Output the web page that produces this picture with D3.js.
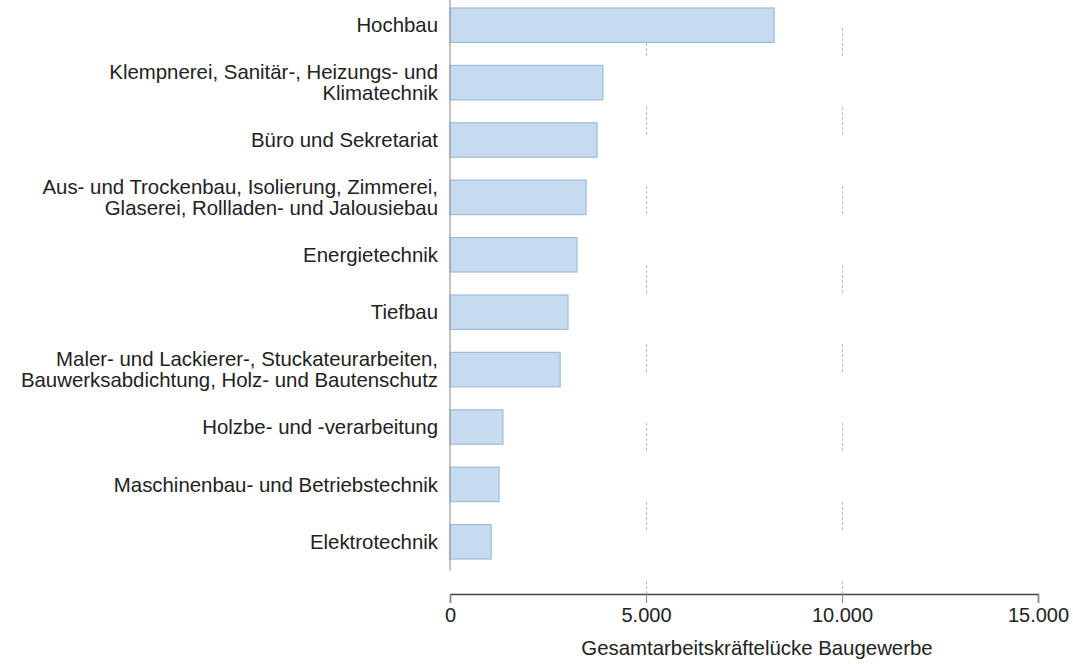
<!DOCTYPE html>
<html><head><meta charset="utf-8">
<script src="https://cdn.jsdelivr.net/npm/d3@7"></script>
<style>body{margin:0;background:#fff}svg{display:block}text{font-family:"Liberation Sans",Arial,sans-serif}</style>
</head><body><svg id="c" width="1073" height="664"></svg>
<script>
const categories = [
  ["Hochbau"],
  ["Klempnerei, Sanitär-, Heizungs- und", "Klimatechnik"],
  ["Büro und Sekretariat"],
  ["Aus- und Trockenbau, Isolierung, Zimmerei,", "Glaserei, Rollladen- und Jalousiebau"],
  ["Energietechnik"],
  ["Tiefbau"],
  ["Maler- und Lackierer-, Stuckateurarbeiten,", "Bauwerksabdichtung, Holz- und Bautenschutz"],
  ["Holzbe- und -verarbeitung"],
  ["Maschinenbau- und Betriebstechnik"],
  ["Elektrotechnik"]
];
const values = [8270, 3900, 3750, 3470, 3240, 3010, 2810, 1350, 1250, 1050];
const xTicks = [0, 5000, 10000, 15000];
const xTickLabels = ["0", "5.000", "10.000", "15.000"];
const xTitle = "Gesamtarbeitskräftelücke Baugewerbe";

const svg = d3.select("#c");
const x = d3.scaleLinear().domain([0, 15000]).range([450, 1038]);
const keys = categories.map((d, i) => i);
const y = d3.scaleBand().domain(keys).range([-3.5, 570.5]).paddingInner(0.4).paddingOuter(0.2);
const axisY = 594;
const fs = 20.4;

// gridlines
svg.append("g").selectAll("line").data(xTicks.slice(1, 3)).join("line")
  .attr("x1", d => Math.round(x(d)) + 0.5).attr("x2", d => Math.round(x(d)) + 0.5)
  .attr("y1", 0).attr("y2", axisY)
  .attr("stroke", "#bdbdbd").attr("stroke-width", 1)
  .attr("stroke-dasharray", "3,2,3,2,3,2,3,2,3,2,3,51").attr("stroke-dashoffset", 51);

// bars
svg.append("g").selectAll("rect").data(values).join("rect")
  .attr("x", x(0)).attr("y", (d, i) => y(i))
  .attr("width", d => x(d) - x(0)).attr("height", y.bandwidth())
  .attr("fill", "#c6dbef").attr("stroke", "#9dbdd9").attr("stroke-width", 1.2);

// y axis line
svg.append("line").attr("x1", 450).attr("x2", 450).attr("y1", -3.5).attr("y2", 570.5)
  .attr("stroke", "#9a9a9a").attr("stroke-width", 1.2);

// category labels
const lab = svg.append("g").selectAll("text").data(categories).join("text")
  .attr("text-anchor", "end").attr("font-size", fs).attr("fill", "#222")
  .attr("transform", (d, i) => `translate(438,${y(i) + y.bandwidth() / 2})`);
lab.each(function(lines) {
  const t = d3.select(this);
  const n = lines.length, lh = 21;
  lines.forEach((l, j) => {
    t.append("tspan").attr("x", 0).attr("y", (j - (n - 1) / 2) * lh).attr("dy", "0.35em").text(l);
  });
});

// x axis
const xa = d3.axisBottom(x).tickValues(xTicks).tickFormat((d, i) => xTickLabels[i]).tickSize(9).tickPadding(5);
const g = svg.append("g").attr("transform", `translate(0,${axisY})`).call(xa);
g.select(".domain").attr("stroke", "#444").attr("stroke-width", 1.5);
g.selectAll(".tick line").attr("stroke", "#888");
g.selectAll(".tick text").attr("font-size", 20).attr("fill", "#222").attr("font-family", "Liberation Sans, Arial, sans-serif");

svg.append("text").attr("x", 757).attr("y", 655).attr("text-anchor", "middle")
  .attr("font-size", fs).attr("fill", "#222").text(xTitle);
</script></body></html>
